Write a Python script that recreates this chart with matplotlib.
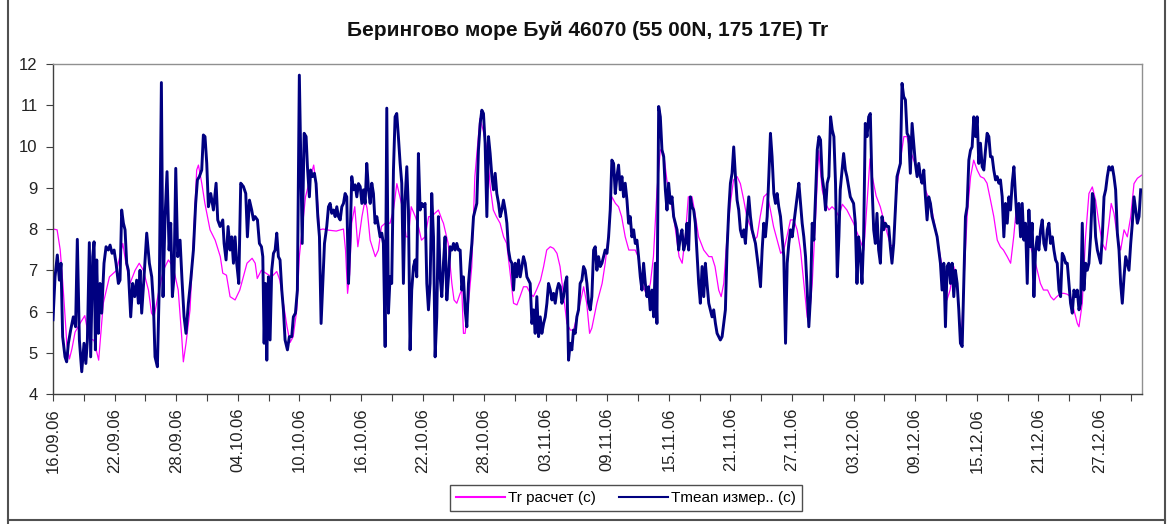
import numpy as np
import pandas as pd
import matplotlib
matplotlib.use('Agg')
import matplotlib.pyplot as plt
import matplotlib.dates as mdates
from matplotlib.lines import Line2D

plt.rcParams['font.family'] = ['Liberation Sans', 'DejaVu Sans']

# series start date; x values are days since start
start = pd.Timestamp('2006-09-16')

# Tmean (measured), day offsets and values
tmean_day = [
    0.0, 0.2, 0.42, 0.62, 0.78, 0.94, 1.17, 1.33, 1.5, 1.72, 1.98, 2.2, 2.37, 2.57, 2.8, 3.02, 3.2, 3.35, 3.54, 3.67,
    3.87, 4.0, 4.13, 4.26, 4.42, 4.58, 4.74, 4.97, 5.17, 5.39, 5.56, 5.75, 5.95, 6.14, 6.37, 6.53, 6.69, 6.86, 7.02, 7.18,
    7.34, 7.57, 7.76, 7.96, 8.15, 8.32, 8.48, 8.64, 8.87, 9.13, 9.39, 9.62, 9.78, 9.94, 10.17, 10.36, 10.56, 10.72, 10.92, 11.11,
    11.31, 11.47, 11.63, 11.79, 11.96, 12.15, 12.38, 12.57, 12.77, 12.96, 13.19, 13.42, 13.68, 13.9, 14.07, 14.26, 14.49, 14.65, 14.81, 14.98,
    15.14, 15.37, 15.63, 15.89, 16.05, 16.28, 16.54, 16.67, 16.86, 17.06, 17.25, 17.41, 17.58, 17.74, 17.9, 18.1, 18.29, 18.55, 18.78, 18.94,
    19.14, 19.36, 19.53, 19.69, 19.92, 20.11, 20.31, 20.44, 20.57, 20.7, 20.83, 20.99, 21.15, 21.31, 21.48, 21.64, 21.8, 21.96, 22.12, 22.29,
    22.45, 22.61, 22.84, 23.03, 23.26, 23.42, 23.62, 23.81, 24.0, 24.28, 24.47, 24.66, 24.79, 24.98, 25.1, 25.28, 25.47, 25.63, 25.8, 25.96,
    26.12, 26.28, 26.45, 26.67, 26.84, 27.0, 27.16, 27.33, 27.49, 27.65, 27.81, 27.98, 28.14, 28.3, 28.46, 28.62, 28.79, 28.95, 29.11, 29.27,
    29.44, 29.6, 29.76, 29.93, 30.09, 30.25, 30.41, 30.57, 30.74, 30.9, 31.06, 31.22, 31.38, 31.55, 31.71, 31.87, 32.03, 32.19, 32.36, 32.52,
    32.68, 32.84, 33.0, 33.17, 33.33, 33.49, 33.65, 33.82, 33.98, 34.14, 34.3, 34.47, 34.63, 34.79, 34.95, 35.12, 35.28, 35.44, 35.6, 35.77,
    35.93, 36.09, 36.25, 36.42, 36.58, 36.74, 36.9, 37.07, 37.23, 37.39, 37.55, 37.72, 37.88, 38.04, 38.2, 38.37, 38.53, 38.69, 38.86, 39.02,
    39.18, 39.34, 39.5, 39.67, 39.83, 39.99, 40.15, 40.32, 40.48, 40.64, 40.81, 40.97, 41.13, 41.29, 41.45, 41.62, 41.78, 41.94, 42.1, 42.27,
    42.43, 42.59, 42.76, 42.92, 43.08, 43.24, 43.41, 43.57, 43.73, 43.89, 44.06, 44.22, 44.38, 44.54, 44.71, 44.87, 45.03, 45.19, 45.36, 45.52,
    45.68, 45.84, 46.01, 46.17, 46.33, 46.49, 46.66, 46.82, 46.98, 47.14, 47.31, 47.47, 47.63, 47.8, 47.96, 48.12, 48.28, 48.45, 48.61, 48.77,
    48.93, 49.1, 49.26, 49.42, 49.58, 49.74, 49.9, 50.06, 50.23, 50.39, 50.55, 50.71, 50.88, 51.04, 51.2, 51.36, 51.53, 51.69, 51.85, 52.02,
    52.18, 52.34, 52.5, 52.67, 52.83, 52.99, 53.15, 53.32, 53.48, 53.64, 53.8, 53.97, 54.13, 54.29, 54.45, 54.62, 54.78, 54.94, 55.1, 55.27,
    55.43, 55.59, 55.75, 55.92, 56.08, 56.24, 56.4, 56.57, 56.73, 56.89, 57.05, 57.22, 57.38, 57.54, 57.71, 57.87, 58.03, 58.19, 58.36, 58.52,
    58.68, 58.84, 59.01, 59.17, 59.33, 59.5, 59.66, 59.82, 59.98, 60.15, 60.31, 60.47, 60.63, 60.8, 60.96, 61.12, 61.28, 61.45, 61.61, 61.77,
    61.93, 62.1, 62.26, 62.42, 62.58, 62.75, 62.91, 63.07, 63.24, 63.4, 63.56, 63.72, 63.89, 64.05, 64.21, 64.37, 64.54, 64.7, 64.86, 65.02,
    65.19, 65.35, 65.51, 65.67, 65.84, 66.0, 66.16, 66.32, 66.49, 66.65, 66.81, 66.97, 67.14, 67.3, 67.46, 67.63, 67.79, 67.95, 68.11, 68.28,
    68.44, 68.6, 68.76, 68.93, 69.09, 69.25, 69.41, 69.58, 69.74, 69.9, 70.06, 70.23, 70.39, 70.55, 70.71, 70.88, 71.04, 71.2, 71.37, 71.53,
    71.69, 71.85, 72.02, 72.18, 72.34, 72.5, 72.67, 72.83, 72.99, 73.15, 73.32, 73.48, 73.64, 73.8, 73.97, 74.13, 74.29, 74.46, 74.62, 74.78,
    74.94, 75.11, 75.27, 75.43, 75.59, 75.76, 75.92, 76.08, 76.24, 76.41, 76.57, 76.7, 77.03, 77.2, 77.35, 77.68, 78.0, 78.17, 78.33, 78.49,
    78.66, 78.82, 78.98, 79.14, 79.31, 79.47, 79.63, 79.79, 79.96, 80.12, 80.28, 80.44, 80.61, 80.77, 80.93, 81.09, 81.26, 81.42, 81.58, 81.74,
    81.91, 82.07, 82.23, 82.4, 82.56, 82.72, 82.88, 83.05, 83.21, 83.37, 83.53, 83.7, 83.86, 84.02, 84.19, 84.35, 84.51, 84.67, 84.84, 85.0,
    85.16, 85.32, 85.49, 85.65, 85.81, 85.97, 86.14, 86.3, 86.46, 86.62, 86.79, 86.95, 87.11, 87.27, 87.44, 87.6, 87.76, 87.92, 88.09, 88.25,
    88.41, 88.58, 88.74, 88.9, 89.06, 89.23, 89.39, 89.55, 89.71, 89.88, 90.04, 90.2, 90.36, 90.53, 90.69, 90.85, 91.01, 91.18, 91.34, 91.5,
    91.66, 91.83, 91.99, 92.15, 92.31, 92.48, 92.64, 92.8, 92.97, 93.13, 93.29, 93.45, 93.62, 93.78, 93.94, 94.1, 94.27, 94.43, 94.59, 94.75,
    94.92, 95.08, 95.24, 95.4, 95.57, 95.73, 95.89, 96.05, 96.22, 96.38, 96.54, 96.71, 96.87, 97.03, 97.19, 97.36, 97.52, 97.68, 97.84, 98.01,
    98.17, 98.33, 98.49, 98.66, 98.82, 98.98, 99.14, 99.31, 99.47, 99.63, 99.79, 99.96, 100.12, 100.28, 100.44, 100.61, 100.77, 100.93, 101.09, 101.26,
    101.42, 101.58, 101.75, 101.91, 102.07, 102.23, 102.4, 102.56, 102.72, 102.88, 103.05, 103.21, 103.37, 103.53, 103.7, 103.86, 104.02, 104.18, 104.35, 104.51,
    104.67, 104.83, 105.0, 105.16, 105.32, 105.49, 105.65, 105.81, 105.97,
]
tmean_val = [
    5.8, 6.84, 7.37, 6.76, 7.17, 5.39, 4.9, 4.78, 5.23, 5.55, 5.87, 5.63, 7.75, 5.31, 4.54, 5.23, 4.74, 5.31, 7.67, 4.9,
    7.33, 7.69, 5.07, 7.25, 5.47, 6.68, 5.96, 7.17, 7.57, 7.49, 7.61, 7.41, 7.49, 7.17, 6.68, 6.76, 8.46, 8.14, 7.98, 7.17,
    7.0, 5.87, 6.68, 6.36, 6.76, 6.2, 7.0, 5.96, 6.84, 7.9, 7.17, 6.84, 6.2, 4.9, 4.66, 6.68, 11.55, 6.36, 8.3, 9.39,
    7.49, 8.14, 6.36, 6.84, 9.47, 7.33, 7.73, 6.76, 5.87, 5.47, 6.2, 6.76, 7.49, 8.62, 9.19, 9.27, 9.43, 10.28, 10.24, 9.59,
    8.54, 8.86, 8.46, 9.11, 8.22, 8.06, 8.22, 7.65, 7.25, 8.06, 7.49, 7.81, 7.17, 7.81, 7.17, 6.68, 9.11, 9.03, 8.86, 7.81,
    8.7, 8.46, 8.22, 8.3, 8.22, 7.65, 7.57, 7.33, 5.23, 6.68, 4.82, 6.84, 5.31, 7.0, 7.41, 7.49, 7.9, 7.33, 7.25, 6.52,
    6.04, 5.31, 5.07, 5.39, 5.39, 5.87, 5.96, 6.52, 11.73, 7.65, 10.32, 10.24, 9.51, 8.78, 9.43, 9.27, 9.35, 9.1, 8.3, 7.81,
    5.71, 6.68, 7.65, 8.06, 8.54, 8.62, 8.38, 8.46, 8.3, 8.54, 8.3, 8.22, 8.54, 8.62, 8.86, 8.78, 6.68, 7.81, 9.27, 8.95,
    9.07, 8.78, 9.1, 9.03, 8.62, 8.95, 8.62, 9.59, 8.95, 8.62, 9.11, 8.86, 8.14, 8.3, 8.06, 7.81, 7.9, 7.65, 5.15, 10.93,
    5.96, 6.84, 6.68, 9.43, 10.72, 10.8, 10.24, 9.59, 9.11, 6.68, 8.7, 9.51, 8.46, 5.07, 6.52, 7.09, 7.25, 6.84, 9.83, 8.46,
    8.62, 8.54, 8.62, 6.68, 6.04, 6.68, 8.86, 7.81, 4.9, 5.87, 8.3, 6.84, 6.36, 7.17, 7.81, 6.28, 6.84, 7.57, 7.49, 7.65,
    7.49, 7.65, 7.49, 7.49, 6.52, 6.84, 6.04, 5.63, 6.68, 7.17, 7.65, 8.3, 8.46, 8.62, 9.91, 10.56, 10.88, 10.8, 10.08, 8.3,
    10.24, 9.83, 9.27, 8.95, 9.35, 8.86, 8.62, 8.3, 8.46, 8.7, 8.46, 8.14, 7.49, 7.25, 7.17, 6.52, 7.17, 6.84, 7.25, 6.84,
    7.09, 7.33, 7.17, 6.84, 6.76, 6.68, 5.71, 6.04, 5.47, 6.36, 5.39, 5.87, 5.47, 5.71, 5.87, 6.2, 6.68, 6.52, 6.28, 6.44,
    6.2, 6.52, 6.68, 6.6, 6.2, 6.36, 6.68, 6.84, 4.82, 5.23, 5.07, 5.55, 5.47, 5.87, 6.04, 6.68, 6.76, 7.09, 7.0, 6.68,
    6.2, 6.04, 6.36, 7.49, 7.57, 7.0, 7.33, 7.09, 7.17, 7.33, 7.49, 7.41, 7.81, 8.46, 9.67, 9.59, 8.86, 9.27, 9.55, 8.95,
    9.27, 8.78, 9.11, 8.7, 8.14, 8.3, 7.81, 7.98, 7.65, 7.73, 7.33, 6.84, 6.52, 7.17, 6.68, 6.36, 6.6, 6.04, 6.52, 5.87,
    7.17, 5.71, 10.97, 10.72, 9.92, 9.75, 8.95, 8.46, 9.11, 8.62, 8.78, 8.3, 8.14, 7.98, 7.49, 7.81, 7.98, 7.49, 7.65, 8.14,
    7.49, 8.78, 8.54, 8.46, 8.14, 7.41, 6.68, 6.2, 7.09, 6.36, 7.17, 6.68, 6.2, 6.04, 5.87, 6.04, 5.71, 5.47, 5.39, 5.31,
    5.39, 5.71, 6.04, 7.49, 8.46, 9.11, 9.35, 9.99, 9.27, 8.7, 8.46, 7.98, 7.81, 7.98, 7.65, 8.3, 8.78, 8.3, 7.98, 7.81,
    7.65, 7.33, 7.0, 6.6, 7.49, 8.14, 7.81, 8.3, 9.27, 10.32, 9.75, 8.86, 8.62, 8.86, 8.54, 8.3, 7.81, 7.33, 5.23, 7.17,
    7.65, 7.98, 7.81, 8.14, 8.46, 8.78, 9.11, 8.62, 8.14, 7.81, 7.33, 6.52, 5.63, 6.36, 8.14, 7.73, 8.78, 9.92, 10.24, 10.16,
    9.27, 8.95, 8.46, 9.11, 9.27, 10.72, 10.4, 10.24, 9.11, 6.84, 7.81, 8.95, 9.83, 9.43, 9.27, 8.78, 8.62, 8.14, 6.68, 7.81,
    7.33, 6.68, 7.81, 10.56, 10.24, 10.72, 10.8, 9.11, 7.98, 7.65, 8.38, 7.49, 7.17, 8.3, 7.98, 8.14, 8.06, 8.06, 7.57, 7.17,
    7.65, 8.46, 9.27, 9.43, 9.59, 11.53, 11.21, 11.13, 10.32, 10.24, 9.35, 10.56, 10.08, 9.59, 9.27, 9.59, 9.27, 9.11, 9.43, 8.78,
    8.22, 8.78, 8.62, 8.3, 8.14, 7.98, 7.81, 7.49, 7.17, 6.52, 7.17, 5.63, 7.09, 7.17, 6.68, 7.17, 6.36, 7.0, 6.68, 6.04,
    5.23, 5.15, 6.68, 8.3, 8.54, 9.67, 9.91, 9.99, 10.72, 10.24, 10.72, 9.59, 10.08, 9.51, 9.43, 9.91, 10.32, 10.24, 9.75, 9.75,
    9.43, 9.19, 9.27, 9.11, 9.19, 8.78, 7.81, 8.62, 8.14, 8.78, 8.46, 9.11, 9.51, 8.78, 8.14, 8.62, 7.81, 8.62, 7.73, 8.14,
    6.68, 8.46, 7.57, 8.14, 6.36, 7.49, 7.81, 7.49, 7.98, 8.22, 7.65, 7.49, 7.98, 8.14, 7.65, 7.81, 7.49, 7.25, 7.17, 6.52,
    6.36, 7.41, 7.33, 7.17, 7.17, 6.68, 6.2, 5.96, 6.52, 6.36, 6.52, 6.04, 6.2, 8.14, 6.52, 7.17, 7.0, 7.17, 7.81, 8.86,
    8.7, 7.81, 7.49, 7.33, 7.17, 7.81, 8.78, 8.95, 9.27, 9.51, 9.43, 9.51, 9.27, 8.95, 7.9, 7.49, 6.68, 6.2, 6.84, 7.33,
    7.17, 7.0, 7.65, 8.14, 8.78, 8.46, 8.14, 8.3, 8.95,
]

# Tr (computed), day offsets and values
tr_day = [
    0.0, 0.4, 0.7, 0.95, 1.17, 1.35, 1.6, 1.85, 2.15, 2.6, 3.1, 3.5, 4.0, 4.45, 4.9, 5.5, 6.2, 6.8, 7.1, 7.5,
    8.0, 8.4, 8.8, 9.3, 9.6, 9.85, 10.27, 10.75, 11.24, 11.7, 12.2, 12.54, 12.7, 12.96, 13.35, 13.68, 14.0, 14.17, 14.5, 14.8,
    15.3, 15.8, 16.3, 16.54, 16.9, 17.25, 17.74, 18.2, 18.9, 19.4, 19.7, 19.9, 20.3, 20.8, 21.3, 21.8, 22.1, 22.45, 22.8, 23.1,
    23.4, 23.75, 24.0, 24.6, 25.1, 25.4, 25.7, 25.96, 26.3, 26.9, 27.6, 28.3, 28.5, 28.7, 28.9, 29.1, 29.4, 29.7, 30.1, 30.4,
    30.6, 30.9, 31.4, 31.7, 32.0, 32.36, 32.84, 33.17, 33.5, 33.8, 34.1, 34.4, 34.63, 34.9, 35.3, 35.6, 35.9, 36.25, 36.6, 36.9,
    37.2, 37.55, 37.9, 38.04, 38.5, 38.86, 39.07, 39.34, 39.67, 39.83, 39.99, 40.15, 40.48, 40.8, 41.1, 41.6, 41.9, 42.3, 42.6, 42.9,
    43.2, 43.56, 43.9, 44.2, 44.54, 44.87, 45.2, 45.5, 45.84, 46.17, 46.5, 46.8, 47.1, 47.5, 47.8, 48.1, 48.45, 48.77, 49.1, 49.4,
    49.75, 50.07, 50.4, 50.72, 51.04, 51.36, 51.7, 52.0, 52.28, 52.5, 52.99, 53.5, 53.8, 54.1, 54.45, 54.8, 55.1, 55.4, 55.75, 56.1,
    56.4, 56.73, 57.0, 57.4, 57.9, 58.2, 58.5, 58.85, 59.17, 59.5, 59.8, 60.15, 60.6, 61.0, 61.3, 61.6, 61.9, 62.26, 62.6, 62.9,
    63.4, 63.9, 64.2, 64.5, 64.86, 65.1, 65.35, 65.67, 66.0, 66.3, 66.65, 66.97, 67.3, 67.6, 67.95, 68.3, 68.6, 68.9, 69.25, 69.58,
    69.9, 70.2, 70.55, 70.9, 71.2, 71.5, 71.85, 72.18, 72.5, 72.83, 73.15, 73.48, 73.64, 73.97, 74.3, 74.6, 74.94, 75.27, 75.6, 75.9,
    76.24, 76.57, 76.9, 77.35, 78.0, 78.5, 79.0, 79.3, 79.6, 79.8, 80.2, 80.6, 81.1, 81.6, 81.9, 82.2, 82.56, 82.9, 83.2, 83.5,
    83.86, 84.2, 84.7, 85.0, 85.5, 86.0, 86.46, 86.8, 87.1, 87.4, 87.76, 88.1, 88.4, 88.5, 88.74, 89.06, 89.4, 89.7, 90.04, 90.36,
    90.7, 91.0, 91.34, 91.66, 92.0, 92.3, 92.6, 92.97, 93.3, 93.6, 93.9, 94.27, 94.6, 94.9, 95.24, 95.57, 95.89, 96.2, 96.5, 96.9,
    97.2, 97.5, 97.8, 98.2, 98.5, 98.8, 99.14, 99.47, 99.8, 99.96, 100.28, 100.6, 100.93, 101.26, 101.58, 101.9, 102.23, 102.56, 102.88, 103.1,
    103.37, 103.7, 104.02, 104.35, 104.67, 105.0, 105.32, 105.65, 106.1,
]
tr_val = [
    8.0, 7.98, 7.5, 6.7, 5.9, 5.2, 4.85, 5.1, 5.5, 5.7, 5.9, 5.35, 5.3, 4.82, 6.2, 6.84, 7.0, 7.65, 7.17, 6.68,
    7.0, 7.17, 7.0, 6.52, 5.96, 5.87, 6.44, 7.0, 7.25, 7.09, 6.52, 5.39, 4.78, 5.23, 6.04, 7.73, 9.43, 9.55, 9.1, 8.62,
    7.98, 7.73, 7.33, 6.93, 6.88, 6.36, 6.28, 6.52, 7.17, 7.29, 7.17, 6.8, 7.0, 6.92, 6.84, 6.97, 6.76, 6.2, 5.63, 5.25,
    5.39, 6.04, 7.33, 8.78, 9.27, 9.55, 8.95, 7.98, 8.0, 7.97, 7.95, 8.0, 7.49, 6.44, 6.9, 8.14, 8.54, 7.57, 8.3, 8.7,
    8.5, 7.73, 7.33, 7.49, 8.06, 8.14, 8.14, 8.46, 9.1, 8.78, 8.46, 7.81, 7.81, 8.54, 8.3, 8.06, 7.73, 7.81, 8.3, 8.3,
    8.38, 8.46, 8.22, 8.14, 7.65, 6.68, 6.28, 6.2, 6.44, 6.52, 5.47, 5.47, 6.2, 7.09, 9.27, 10.68, 10.4, 9.91, 9.02, 8.46,
    8.3, 8.14, 7.81, 7.65, 6.93, 6.2, 6.16, 6.36, 6.6, 6.6, 6.44, 6.36, 6.52, 6.76, 7.09, 7.49, 7.57, 7.53, 7.41, 7.09,
    6.36, 5.71, 5.55, 5.55, 5.87, 6.2, 6.6, 6.2, 5.47, 5.6, 6.2, 6.68, 7.17, 7.81, 8.78, 8.62, 8.54, 8.3, 7.81, 7.49,
    7.49, 7.49, 7.33, 6.68, 6.36, 6.68, 7.33, 8.95, 9.92, 9.83, 9.2, 8.78, 8.06, 7.33, 7.17, 7.81, 8.78, 8.78, 8.3, 7.81,
    7.49, 7.33, 7.33, 7.09, 6.52, 6.36, 6.68, 7.81, 8.62, 9.19, 9.27, 9.1, 8.7, 8.3, 8.06, 7.73, 7.81, 8.3, 8.78, 8.86,
    8.46, 8.06, 7.73, 7.41, 7.49, 7.81, 8.22, 8.22, 7.98, 7.49, 6.68, 5.87, 5.71, 6.68, 8.3, 9.9, 8.95, 8.62, 8.46, 8.54,
    8.46, 8.3, 8.6, 8.46, 8.14, 7.81, 7.49, 8.6, 9.7, 9.3, 8.8, 8.54, 8.06, 7.6, 7.6, 8.95, 9.67, 10.24, 10.24, 9.92,
    9.67, 9.43, 9.27, 8.95, 8.62, 7.98, 7.33, 6.84, 6.28, 6.52, 7.09, 6.68, 5.39, 5.31, 6.68, 8.3, 9.27, 9.67, 9.43, 9.27,
    9.23, 9.11, 8.7, 8.3, 7.73, 7.57, 7.49, 7.33, 7.17, 7.81, 8.62, 8.46, 8.14, 7.81, 7.57, 7.33, 7.0, 6.68, 6.52, 6.52,
    6.36, 6.28, 6.36, 6.44, 6.44, 6.42, 6.36, 6.04, 5.71, 5.63, 6.2, 7.81, 8.86, 9.02, 8.7, 8.14, 7.65, 7.49, 8.14, 8.62,
    8.38, 7.81, 7.49, 7.98, 7.81, 8.3, 9.1, 9.23, 9.31,
]

# date tick positions: labels every 6 days, tick marks every 3 days
label_days = np.arange(0, 103, 6)
tick_days = np.arange(0, 106, 3)
x_max_day = 106.1

to_dates = lambda d: start + pd.to_timedelta(np.asarray(d, dtype=float), unit='D')

fig = plt.figure(figsize=(11.73, 5.24), dpi=100)
ax = fig.add_axes([53 / 1173, 1 - 394 / 524, (1142 - 53) / 1173, (394 - 64) / 524])

ax.plot(to_dates(tr_day), tr_val, color='#FF00FF', lw=0.9, label='Tr расчет (c)', zorder=2)
ax.plot(to_dates(tmean_day), tmean_val, color='#000080', lw=2.1, label='Tmean измер.. (c)', zorder=3)

ax.set_xlim(to_dates([0])[0], to_dates([x_max_day])[0])
ax.set_ylim(4, 12)
ax.set_yticks(range(4, 13))

ax.set_xticks(to_dates(label_days))
ax.set_xticks(to_dates(tick_days), minor=True)
ax.xaxis.set_major_formatter(mdates.DateFormatter('%d.%m.%y'))
ax.tick_params(axis='x', which='both', direction='out', length=5, width=0.8, color='#404040')
ax.tick_params(axis='x', which='major', labelrotation=90, labelsize=12, pad=5)
ax.tick_params(axis='y', direction='out', length=5, width=0.8, color='#404040', labelsize=12, pad=6)
for lab in ax.get_xticklabels() + ax.get_yticklabels():
    lab.set_color('#222222')

for side in ('left', 'bottom'):
    ax.spines[side].set_color('#404040')
    ax.spines[side].set_linewidth(1.0)
for side in ('top', 'right'):
    ax.spines[side].set_color('#909090')
    ax.spines[side].set_linewidth(1.0)

fig.text(588 / 1173, 1 - 30 / 524, 'Берингово море Буй 46070 (55 00N, 175 17E) Tr',
         ha='center', va='center', fontsize=15, fontweight='bold', color='#111111')

leg = fig.legend(loc='center', bbox_to_anchor=(626 / 1173, 1 - 498 / 524), ncol=2,
                 frameon=True, fancybox=False, edgecolor='#222222', fontsize=11,
                 handlelength=3.2, handletextpad=0.2, columnspacing=1.5,
                 borderpad=0.4)
leg.get_frame().set_linewidth(1.0)
for h in leg.get_lines():
    h.set_linewidth(1.5)

# outer chart border
for xs, ys in (([8 / 1173, 8 / 1173], [0, 1]),
               ([1165 / 1173, 1165 / 1173], [0, 1]),
               ([8 / 1173, 1165 / 1173], [4 / 524, 4 / 524])):
    fig.add_artist(Line2D(xs, ys, color='#505050', lw=1.5, transform=fig.transFigure))

fig.savefig('out.png', dpi=100)
